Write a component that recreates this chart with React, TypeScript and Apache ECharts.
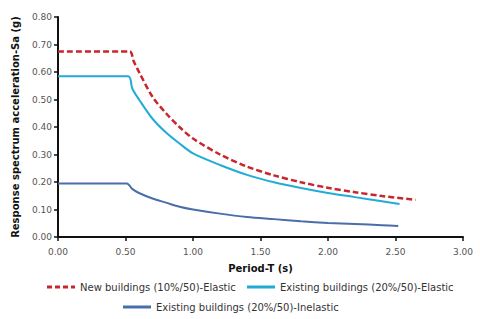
import React, { useEffect, useRef } from "react";
import * as echarts from "echarts";

const newElastic: [number, number][] = [
  [0, 0.675], [0.53, 0.675], [0.56, 0.64], [0.6, 0.6], [0.7, 0.51], [0.8, 0.45], [0.9, 0.4], [1.0, 0.358],
  [1.2, 0.3], [1.4, 0.256], [1.6, 0.224], [1.8, 0.199], [2.0, 0.179], [2.2, 0.163],
  [2.4, 0.149], [2.65, 0.135],
];
const existElastic: [number, number][] = [
  [0, 0.585], [0.52, 0.585], [0.55, 0.54], [0.6, 0.5], [0.7, 0.43], [0.8, 0.38], [0.9, 0.34],
  [1.0, 0.304], [1.2, 0.262], [1.4, 0.226], [1.6, 0.199], [1.8, 0.178], [2.0, 0.16],
  [2.2, 0.145], [2.4, 0.13], [2.53, 0.12],
];
const existInelastic: [number, number][] = [
  [0, 0.195], [0.51, 0.195], [0.55, 0.175], [0.6, 0.16], [0.7, 0.14], [0.8, 0.125],
  [0.9, 0.11], [1.0, 0.1], [1.2, 0.085], [1.4, 0.073], [1.6, 0.065], [1.8, 0.057],
  [2.0, 0.051], [2.2, 0.047], [2.4, 0.043], [2.52, 0.04],
];
const seriesNames = [
  "New buildings (10%/50)-Elastic",
  "Existing buildings (20%/50)-Elastic",
  "Existing buildings (20%/50)-Inelastic",
];
const xTitle = "Period-T (s)";
const yTitle = "Response spectrum acceleration-Sa (g)";

const FONT = "DejaVu Sans";
const dashedIcon = "path://M0,0h5v3h-5z M8,0h5v3h-5z M16,0h5v3h-5z M24,0h4v3h-4z";
const solidIcon = "path://M0,0h28v3h-28z";

export default function App() {
  const ref = useRef<HTMLDivElement>(null);
  useEffect(() => {
    if (!ref.current) return;
    const chart = echarts.init(ref.current, undefined, { renderer: "svg" });
    const axisLine = { show: true, lineStyle: { color: "#111", width: 2 } };
    const legendText = { fontFamily: FONT, fontSize: 10, color: "#333" };
    const legendBase = { itemWidth: 28, itemHeight: 3, itemGap: 5, textStyle: legendText, padding: 0 };
    chart.setOption({
      animation: false,
      backgroundColor: "#fff",
      textStyle: { fontFamily: FONT },
      grid: { left: 58, right: 17, top: 17, bottom: 82 },
      legend: [
        { ...legendBase, data: [{ name: seriesNames[0], icon: dashedIcon }], left: 47, top: 282 },
        { ...legendBase, data: [{ name: seriesNames[1], icon: solidIcon }], left: 247, top: 282 },
        { ...legendBase, data: [{ name: seriesNames[2], icon: solidIcon }], left: 123, top: 302 },
      ],
      xAxis: {
        type: "value",
        min: 0,
        max: 3,
        interval: 0.5,
        name: xTitle,
        nameLocation: "middle",
        nameGap: 26,
        nameTextStyle: { fontFamily: FONT, fontSize: 10, fontWeight: "bold", color: "#111" },
        axisLine,
        axisTick: { show: true, length: 4, lineStyle: { color: "#111", width: 1.5 } },
        axisLabel: {
          fontFamily: FONT,
          fontSize: 9,
          color: "#555",
          margin: 10,
          formatter: (v: number) => v.toFixed(2),
        },
        splitLine: { show: false },
      },
      yAxis: {
        type: "value",
        min: 0,
        max: 0.8,
        interval: 0.1,
        name: yTitle,
        nameLocation: "middle",
        nameGap: 38,
        nameTextStyle: { fontFamily: FONT, fontSize: 10, fontWeight: "bold", color: "#111" },
        axisLine,
        axisTick: { show: true, length: 4, lineStyle: { color: "#111", width: 1.5 } },
        axisLabel: {
          fontFamily: FONT,
          fontSize: 9,
          color: "#555",
          margin: 6,
          formatter: (v: number) => v.toFixed(2),
        },
        splitLine: { show: false },
      },
      series: [
        {
          name: seriesNames[0],
          type: "line",
          data: newElastic,
          symbol: "none",
          smooth: 0.3,
          itemStyle: { color: "#c8262c" },
          lineStyle: { color: "#c8262c", width: 2.5, type: [6, 3] },
        },
        {
          name: seriesNames[1],
          type: "line",
          data: existElastic,
          symbol: "none",
          smooth: 0.3,
          itemStyle: { color: "#22abd6" },
          lineStyle: { color: "#22abd6", width: 2 },
        },
        {
          name: seriesNames[2],
          type: "line",
          data: existInelastic,
          symbol: "none",
          smooth: 0.3,
          itemStyle: { color: "#4a6ea8" },
          lineStyle: { color: "#4a6ea8", width: 2 },
        },
      ],
    });
    return () => chart.dispose();
  }, []);
  return <div ref={ref} style={{ width: 480, height: 319, position: "absolute", left: 0, top: 0 }} />;
}
